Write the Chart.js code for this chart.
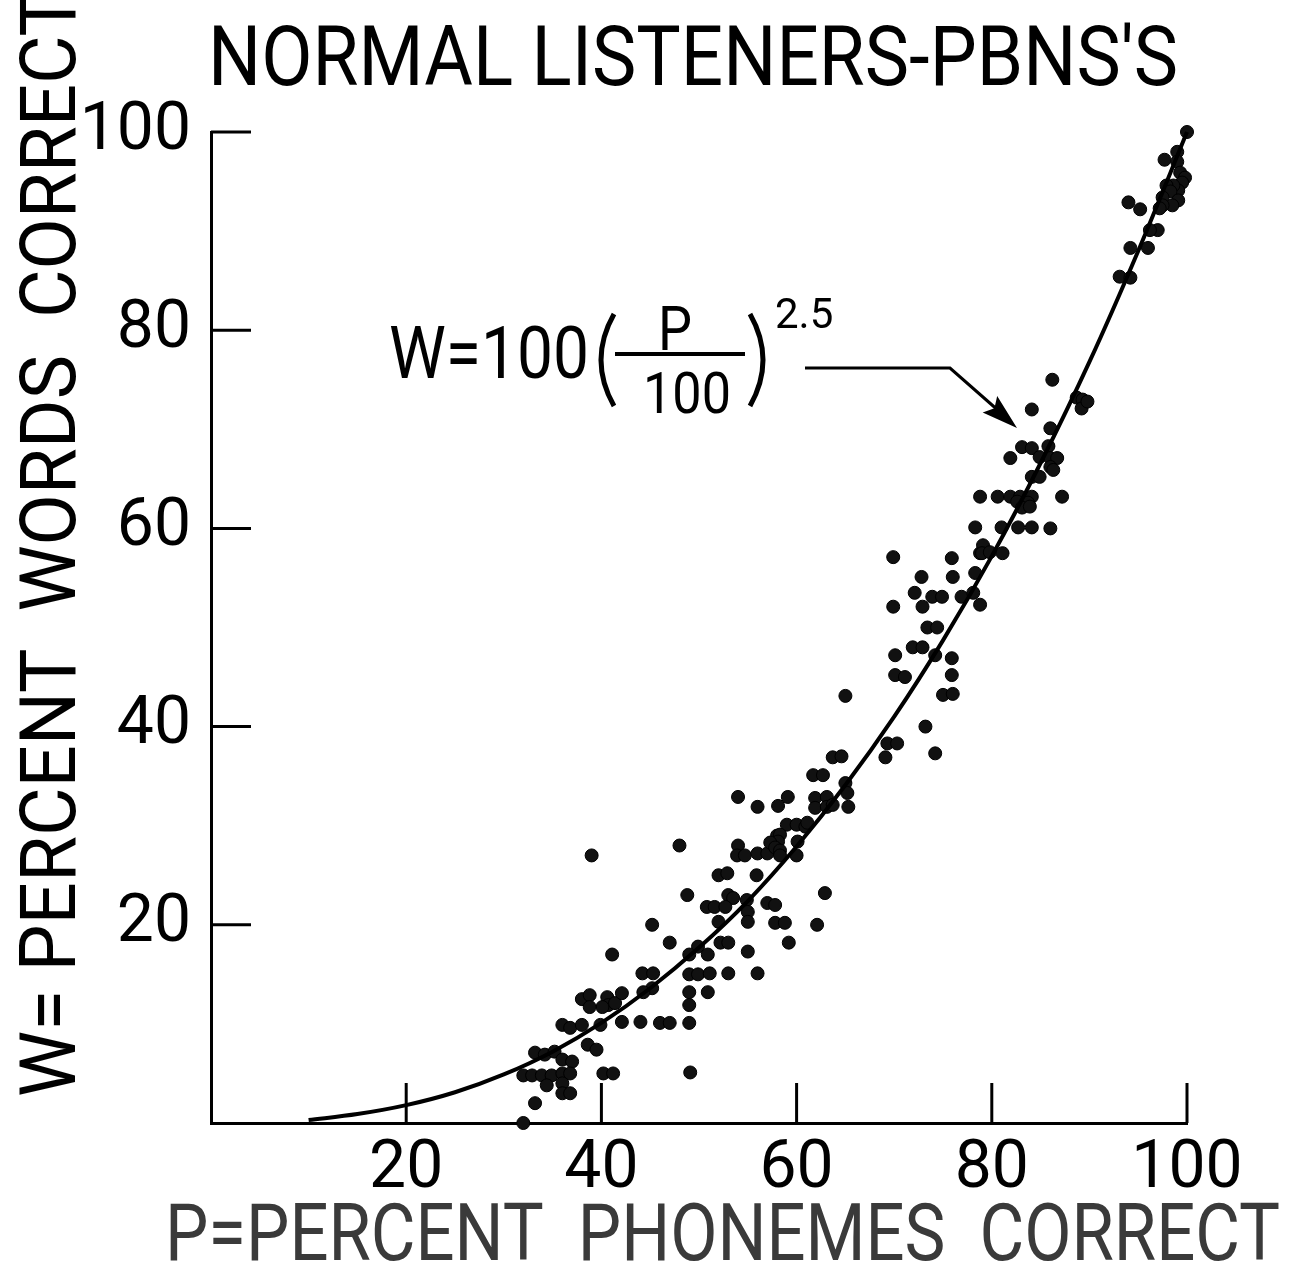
<!DOCTYPE html>
<html>
<head>
<meta charset="utf-8">
<script src="https://cdn.jsdelivr.net/npm/chart.js@4.4.1/dist/chart.umd.min.js"></script>
<style>
  body { margin: 0; background: #fff; }
  #wrap { width: 1300px; height: 1273px; }
</style>
</head>
<body>
<div id="wrap"><canvas id="chart" width="1300" height="1273"></canvas></div>
<script>
// ===== Data =====
const xTicks = [0, 20, 40, 60, 80, 100];
const yTicks = [0, 20, 40, 60, 80, 100];

// fitted curve W = 100 (P/100)^2.5
const curveP = [10, 15, 20, 25, 30, 35, 40, 45, 50, 55, 60, 65, 70, 75, 80, 85, 90, 95, 100];
const curveW = [0.3, 0.9, 1.8, 3.1, 4.9, 7.2, 10.1, 13.6, 17.7, 22.4, 27.9, 34.1, 41.0, 48.7, 57.2, 66.6, 76.8, 88.0, 100];

// listeners' scores: P = percent phonemes correct, W = percent words correct
const scoreP = [
  44.2, 45.3, 45.2, 44.3, 38.0, 38.8, 40.6, 40.7, 41.4, 40.1, 42.1, 38.8, 36.0, 36.8, 38.0, 39.9,
  42.1, 44.0, 46.0, 47.0, 38.6, 39.5, 33.2, 34.2, 35.2, 36.0, 37.0, 32.0, 32.9, 33.9, 34.9, 36.0,
  36.8, 40.2, 41.2, 34.4, 36.0, 36.0, 36.8, 33.2, 32.0,
  48.0, 54.0, 53.9, 54.7, 56.0, 57.0, 57.5, 58.0, 52.0, 52.9, 55.9, 48.8, 53.0, 53.5, 54.9, 50.8,
  51.6, 52.7, 57.0, 57.8, 55.0, 55.0, 57.8, 45.2, 52.0, 47.0, 49.9, 52.2, 53.0, 49.0, 50.9, 55.0,
  41.1, 49.0, 49.9, 51.1, 53.0, 56.0, 39.0,
  63.7, 64.6, 61.7, 62.7, 54.0, 59.1, 56.0, 58.1, 61.9, 61.9, 63.1, 63.1, 63.7, 65.0, 65.2, 65.3,
  59.0, 60.0, 60.9, 61.1, 58.3, 58.1, 57.3, 57.8, 58.3, 60.1, 60.0, 58.3, 62.9,
  58.8, 59.2, 62.1, 49.1, 49.0, 50.9, 49.0, 49.0, 65.0,
  69.9, 75.9, 72.8, 76.0, 78.3, 78.8, 72.1, 73.9, 74.9, 76.9, 78.1, 78.8, 69.9, 72.9, 73.4, 74.4,
  71.9, 72.9, 74.2, 70.1, 75.9, 70.1, 71.1, 75.9, 75.0, 76.0, 73.2, 69.3, 70.3, 69.1, 74.2,
  86.2, 84.1, 88.7, 89.3, 89.2, 89.8, 86.0, 83.1, 84.1, 85.8, 81.9, 84.9, 86.0, 86.7, 86.0, 86.3,
  84.1, 84.9, 87.2, 78.8, 80.6, 81.9, 82.9, 84.1, 82.6, 83.7, 83.1, 83.9, 78.3, 81.0, 82.7, 84.1,
  86.0, 79.1, 79.0, 79.8, 81.1,
  100, 99.0, 97.7, 99.0, 99.3, 99.8, 99.5, 99.1, 98.6, 97.9, 98.3, 97.5, 99.1, 98.5, 97.5, 97.2,
  94.0, 95.2, 97.0, 96.2, 94.2, 96.0, 93.1, 94.2
];
const scoreW = [
  15.1, 15.1, 13.6, 13.2, 12.5, 12.9, 12.7, 11.9, 12.1, 11.7, 13.1, 11.7, 9.9, 9.6, 9.9, 9.9,
  10.2, 10.2, 10.1, 10.1, 7.9, 7.4, 7.1, 6.9, 7.2, 6.4, 6.2, 4.8, 4.8, 4.8, 4.8, 5.0,
  5.0, 5.0, 5.0, 3.8, 4.0, 3.0, 3.0, 2.0, 0.0,
  28.0, 28.0, 27.0, 27.0, 27.2, 27.2, 28.3, 29.0, 25.0, 25.2, 25.0, 23.0, 23.0, 22.7, 22.5, 21.8,
  21.8, 21.8, 22.2, 22.0, 21.3, 20.3, 20.2, 20.0, 20.3, 18.2, 17.8, 18.2, 18.2, 17.0, 17.0, 17.3,
  17.0, 15.0, 15.0, 15.1, 15.1, 15.1, 27.0,
  36.9, 37.0, 35.1, 35.1, 32.9, 32.9, 31.9, 32.0, 32.8, 31.8, 32.9, 31.9, 32.1, 34.3, 33.3, 31.9,
  30.1, 30.1, 29.9, 30.3, 29.1, 28.4, 28.3, 27.8, 27.5, 28.4, 27.0, 27.0, 23.2,
  20.2, 18.2, 20.0, 5.1, 13.2, 13.2, 11.9, 10.1, 43.1,
  57.1, 57.0, 55.1, 55.1, 55.5, 57.5, 53.5, 53.1, 53.1, 53.1, 53.5, 52.3, 52.1, 52.1, 50.0, 50.0,
  48.0, 48.0, 47.2, 47.2, 46.9, 45.2, 45.0, 45.2, 43.2, 43.3, 40.0, 38.3, 38.3, 36.9, 37.3,
  75.0, 72.0, 73.2, 73.0, 72.1, 72.8, 70.1, 68.2, 68.1, 68.3, 67.1, 67.2, 67.1, 67.1, 66.2, 65.9,
  65.2, 65.2, 63.2, 63.2, 63.2, 63.2, 63.2, 63.2, 62.7, 62.6, 62.1, 62.2, 60.1, 60.1, 60.1, 60.1,
  60.0, 58.3, 57.5, 57.6, 57.5,
  100, 98.0, 97.2, 97.0, 95.9, 95.4, 94.9, 94.1, 94.6, 94.6, 94.0, 93.4, 93.1, 92.6, 92.6, 92.3,
  92.9, 92.2, 90.1, 90.1, 88.3, 88.3, 85.4, 85.3
];

const FONT = 'Roboto, "DejaVu Sans Condensed", sans-serif';

// ===== Plugins =====
// inward tick marks
const innerTicks = {
  id: 'innerTicks',
  afterDatasetsDraw(chart) {
    const {ctx, chartArea: a, scales: {x, y}} = chart;
    ctx.save();
    ctx.strokeStyle = '#000';
    ctx.lineWidth = 3;
    xTicks.filter(v => v > 0).forEach(v => {
      const px = x.getPixelForValue(v);
      ctx.beginPath(); ctx.moveTo(px, a.bottom); ctx.lineTo(px, a.bottom - 40); ctx.stroke();
    });
    yTicks.filter(v => v > 0).forEach(v => {
      const py = y.getPixelForValue(v);
      ctx.beginPath(); ctx.moveTo(a.left, py); ctx.lineTo(a.left + 40, py); ctx.stroke();
    });
    ctx.restore();
  }
};

function txt(ctx, s, x, y, size, maxW, color) {
  ctx.font = size + 'px ' + FONT;
  ctx.fillStyle = color || '#000';
  if (maxW) ctx.fillText(s, x, y, maxW); else ctx.fillText(s, x, y);
}

// titles and the formula with its arrow
const labels = {
  id: 'labels',
  afterDraw(chart) {
    const ctx = chart.ctx;
    ctx.save();
    ctx.textAlign = 'left';
    ctx.textBaseline = 'alphabetic';

    txt(ctx, "NORMAL LISTENERS-PBNS'S", 208, 85, 84, 970);
    txt(ctx, 'P=PERCENT  PHONEMES  CORRECT', 165, 1260, 80, 1115, '#3a3a3a');

    ctx.save();
    ctx.translate(75, 1097);
    ctx.rotate(-Math.PI / 2);
    txt(ctx, 'W= PERCENT  WORDS  CORRECT', 0, 0, 78, 1105);
    ctx.restore();

    // formula
    txt(ctx, 'W=100', 389, 378, 72, 200);
    txt(ctx, 'P', 658, 350, 62, 34);
    txt(ctx, '100', 643, 413, 58, 88);
    txt(ctx, '2.5', 775, 328, 42, 71);
    ctx.strokeStyle = '#000';
    ctx.lineWidth = 4;
    ctx.beginPath(); ctx.moveTo(615, 354); ctx.lineTo(745, 354); ctx.stroke();
    // parentheses
    ctx.lineWidth = 5;
    ctx.beginPath(); ctx.moveTo(614, 314); ctx.quadraticCurveTo(588, 360, 614, 406); ctx.stroke();
    ctx.beginPath(); ctx.moveTo(750, 314); ctx.quadraticCurveTo(776, 360, 750, 406); ctx.stroke();

    // arrow
    ctx.lineWidth = 3;
    ctx.beginPath(); ctx.moveTo(805, 368); ctx.lineTo(950, 368); ctx.lineTo(1000, 412); ctx.stroke();
    const ang = Math.atan2(425 - 368, 1015 - 950);
    ctx.save();
    ctx.translate(1017, 428);
    ctx.rotate(ang);
    ctx.fillStyle = '#000';
    ctx.beginPath(); ctx.moveTo(0, 0); ctx.lineTo(-36, -11); ctx.lineTo(-30, 0); ctx.lineTo(-36, 11); ctx.closePath(); ctx.fill();
    ctx.restore();

    ctx.restore();
  }
};

// ===== Chart =====
const curve = curveP.map((p, i) => ({x: p, y: curveW[i]}));
const scores = scoreP.map((p, i) => ({x: p, y: scoreW[i]}));

new Chart(document.getElementById('chart'), {
  type: 'scatter',
  data: {
    datasets: [
      {
        data: curve, showLine: true, pointRadius: 0, borderColor: '#000', borderWidth: 4,
        cubicInterpolationMode: 'monotone', fill: false, clip: 10
      },
      {
        data: scores, pointRadius: 6.5, backgroundColor: '#111', borderColor: '#000', borderWidth: 1, clip: 10
      }
    ]
  },
  options: {
    responsive: false,
    animation: false,
    layout: {padding: {left: 0, top: 132, right: 113, bottom: 0}},
    plugins: {legend: {display: false}, tooltip: {enabled: false}},
    scales: {
      x: {
        type: 'linear', min: 0, max: 100,
        afterFit(s) { s.height = 150; },
        afterBuildTicks(s) { s.ticks = xTicks.map(v => ({value: v})); },
        ticks: {
          callback: v => (v === 0 ? '' : v), color: '#000', padding: 8,
          maxRotation: 0, autoSkip: false, font: {size: 66, family: FONT}
        },
        grid: {display: true, drawOnChartArea: false, drawTicks: false},
        border: {display: true, color: '#000', width: 3}
      },
      y: {
        type: 'linear', min: 0, max: 100,
        afterFit(s) { s.width = 211; },
        afterBuildTicks(s) { s.ticks = yTicks.map(v => ({value: v})); },
        ticks: {
          callback: v => (v === 0 ? '' : v), color: '#000', padding: 20,
          autoSkip: false, font: {size: 66, family: FONT}
        },
        grid: {display: true, drawOnChartArea: false, drawTicks: false},
        border: {display: true, color: '#000', width: 3}
      }
    }
  },
  plugins: [innerTicks, labels]
});
</script>
</body>
</html>
